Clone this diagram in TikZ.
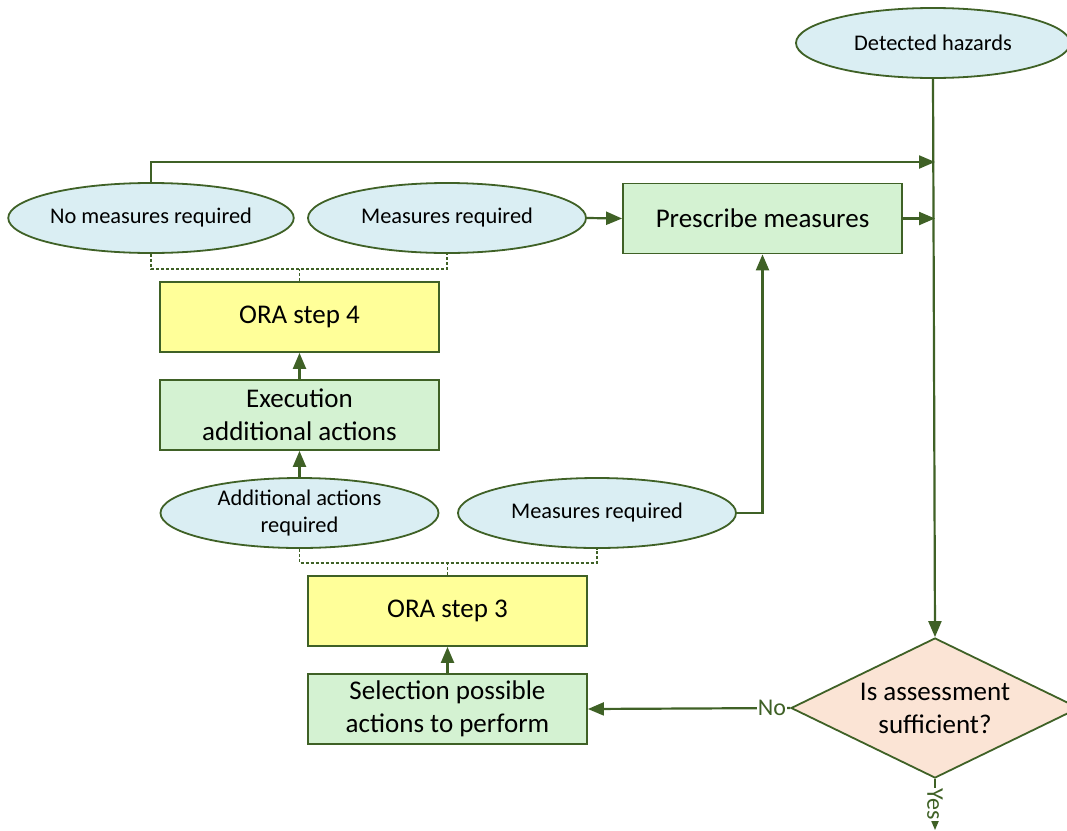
\documentclass[tikz,border=0pt]{standalone}
\usepackage{fontspec}
\setmainfont{Carlito}
\usetikzlibrary{shapes.geometric,arrows.meta}
\definecolor{edgegreen}{HTML}{3F6126}
\definecolor{ovalfill}{HTML}{DAEEF3}
\definecolor{greenfill}{HTML}{D4F2D2}
\definecolor{yellowfill}{HTML}{FFFF99}
\definecolor{decfill}{HTML}{FBE4D5}
\begin{document}
\begin{tikzpicture}[x=1pt,y=-1pt,
  oval/.style={ellipse, draw=edgegreen, line width=1.8pt, fill=ovalfill,
    minimum width=278pt, minimum height=70pt, inner sep=0pt, align=center,
    font=\fontsize{22.4}{27}\selectfont},
  greenbox/.style={rectangle, draw=edgegreen, line width=1.8pt, fill=greenfill,
    minimum width=279pt, minimum height=70pt, inner sep=0pt, align=center,
    font=\fontsize{27}{33}\selectfont},
  yellowbox/.style={greenbox, fill=yellowfill},
  decision/.style={diamond, draw=edgegreen, line width=1.8pt, fill=decfill,
    minimum width=288pt, minimum height=140pt, inner sep=0pt},
  flow/.style={draw=edgegreen, line width=2.2pt, -{Triangle[length=16pt,width=13pt]}},
  bracket/.style={draw=edgegreen, line width=1.3pt, dash pattern=on 3pt off 2pt},
  lbl/.style={fill=white, inner sep=1pt, text=edgegreen, font=\fontsize{24}{28}\selectfont}]
\clip (0,0) rectangle (1067,830);
\fill[white] (0,0) rectangle (1067,830);

% nodes
\node[oval, minimum width=274pt] (haz) at (933,43) {Detected hazards};
\node[oval] (nomr) at (151,218) {No measures required};
\node[oval] (mr1) at (447,218) {Measures required};
\node[greenbox] (presc) at (762.5,218.5) {Prescribe measures};
\node[yellowbox] (ora4) at (299.5,317) {ORA step 4};
\node[greenbox] (exec) at (299.5,415) {Execution\\additional actions};
\node[oval] (addl) at (299.5,513) {Additional actions\\required};
\node[oval] (mr2) at (597,513) {Measures required};
\node[yellowbox] (ora3) at (447.5,611) {ORA step 3};
\node[greenbox] (sel) at (447.5,709) {Selection possible\\actions to perform};
\node[decision] (dec) at (935,708) {};
\node[align=center, font=\fontsize{27}{33}\selectfont] (dectext) at (dec) {Is assessment\\sufficient?};

% junctions on the main line
\coordinate (j1) at (935,162);
\coordinate (j2) at (935,218.5);
\coordinate (yesend) at (935,830);

% connectors
\draw[flow] (haz.south) -- (dec.north);
\draw[flow] (nomr.north) |- (j1);
\draw[flow] (mr1.east) -- (presc.west);
\draw[flow] (presc.east) -- (j2);
\draw[flow] (mr2.east) -| (presc.south);
\draw[flow] (exec.north) -- (ora4.south);
\draw[flow] (addl.north) -- (exec.south);
\draw[flow] (sel.north) -- (ora3.south);
\draw[flow] (dec.west) -- node[lbl, pos=0.09] {No} (sel.east);
\draw[flow] (dec.south) -- node[lbl, pos=0.5, rotate=-90] {Yes} (yesend);

% dotted brackets
\draw[bracket] (nomr.south) -- ++(0,15) coordinate (b1) -| (mr1.south);
\draw[bracket] (ora4.north) -- (ora4.north |- b1);
\draw[bracket] (addl.south) -- ++(0,14) coordinate (b2) -| (mr2.south);
\draw[bracket] (ora3.north) -- (ora3.north |- b2);
\end{tikzpicture}
\end{document}
